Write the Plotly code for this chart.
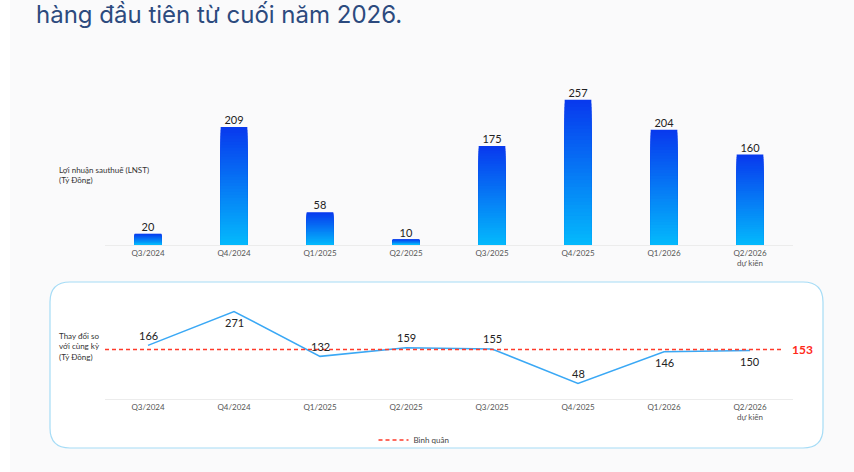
import plotly.graph_objects as go

# quarter labels and values
quarters = ['Q3/2024', 'Q4/2024', 'Q1/2025', 'Q2/2025', 'Q3/2025', 'Q4/2025', 'Q1/2026', 'Q2/2026']
tick_labels = ['Q3/2024', 'Q4/2024', 'Q1/2025', 'Q2/2025', 'Q3/2025', 'Q4/2025', 'Q1/2026', 'Q2/2026<br>dự kiến']
lnst = [20, 209, 58, 10, 175, 257, 204, 160]          # Lợi nhuận sau thuế (tỷ đồng)
yoy_change = [166, 271, 132, 159, 155, 48, 146, 150]  # Thay đổi so với cùng kỳ
label_above = [True, False, True, True, True, True, False, False]

W, H = 854, 472
def px(x):
    return x / W
def py(y):
    return 1 - y / H

avg = sum(yoy_change) / len(yoy_change)

fig = go.Figure()

# gradient bars: overlay bands from dark (top) to light (bottom)
N = 40
top_rgb = (8, 58, 238)
bot_rgb = (4, 184, 252)
for k in range(N):
    t = k / (N - 1)
    c = tuple(round(top_rgb[i] + (bot_rgb[i] - top_rgb[i]) * t) for i in range(3))
    fig.add_trace(go.Bar(
        x=quarters,
        y=[v * (N - k) / N for v in lnst],
        width=0.31,
        marker=dict(color='rgb(%d,%d,%d)' % c, line_width=0),
        showlegend=False,
        hoverinfo='skip',
        xaxis='x', yaxis='y',
    ))

# bar value labels
fig.add_trace(go.Scatter(
    x=quarters, y=lnst, mode='text', text=[str(v) for v in lnst],
    textposition='top center',
    textfont=dict(size=11, color='#222222', family='Lato'),
    cliponaxis=False, showlegend=False, xaxis='x', yaxis='y',
))

# yoy change line
fig.add_trace(go.Scatter(
    x=quarters, y=yoy_change, mode='lines',
    line=dict(color='#3aa8f5', width=1.5),
    cliponaxis=False, showlegend=False, xaxis='x2', yaxis='y2',
))

# panel around lower chart (rounded rectangle)
x0, x1, y0, y1, r = 50, 823, 282, 448, 20
path = (f'M {px(x0 + r)},{py(y0)} L {px(x1 - r)},{py(y0)} Q {px(x1)},{py(y0)} {px(x1)},{py(y0 + r)} '
        f'L {px(x1)},{py(y1 - r)} Q {px(x1)},{py(y1)} {px(x1 - r)},{py(y1)} '
        f'L {px(x0 + r)},{py(y1)} Q {px(x0)},{py(y1)} {px(x0)},{py(y1 - r)} '
        f'L {px(x0)},{py(y0 + r)} Q {px(x0)},{py(y0)} {px(x0 + r)},{py(y0)} Z')

shapes = [
    dict(type='rect', xref='paper', yref='paper', x0=0, x1=px(10), y0=0, y1=1,
         fillcolor='white', line_width=0, layer='below'),
    dict(type='path', path=path, xref='paper', yref='paper',
         fillcolor='white', line=dict(color='#a6dcf6', width=1.2), layer='below'),
    dict(type='line', xref='paper', yref='y2', x0=px(105), x1=px(782), y0=avg, y1=avg,
         line=dict(color='#ff3a2a', width=1.5, dash='4px,3px'),
         showlegend=True, name='Bình quân'),
]

annotations = [
    dict(text='hàng đầu tiên từ cuối năm 2026.', xref='paper', yref='paper',
         x=px(34), y=py(14), xanchor='left', yanchor='middle', showarrow=False,
         font=dict(family='Inter', size=24, color='#2c4a7e')),
    dict(text='Lợi nhuận sauthuế (LNST)<br>(Tỷ Đồng)', xref='paper', yref='paper',
         x=px(57), y=py(175), xanchor='left', yanchor='middle', align='left', showarrow=False,
         font=dict(family='Lato', size=8, color='#333333')),
    dict(text='Thay đổi so<br>với cùng kỳ<br>(Tỷ Đồng)', xref='paper', yref='paper',
         x=px(57), y=py(346), xanchor='left', yanchor='middle', align='left', showarrow=False,
         font=dict(family='Lato', size=8, color='#333333')),
    dict(text='<b>%d</b>' % round(avg), xref='paper', yref='y2',
         x=px(790), y=avg, xanchor='left', yanchor='middle', showarrow=False,
         font=dict(family='Lato', size=12, color='#ff2a1a')),
]

# value labels on the line, above or below each point
for q, v, above in zip(quarters, yoy_change, label_above):
    annotations.append(dict(
        text=str(v), x=q, y=v, xref='x2', yref='y2', showarrow=False,
        xanchor='center', yanchor='middle', yshift=10 if above else -11,
        font=dict(family='Lato', size=11, color='#222222'),
    ))

axis_common = dict(
    type='category', range=[-0.5, 7.5], domain=[px(105), px(793)],
    tickmode='array', tickvals=quarters, ticktext=tick_labels,
    tickfont=dict(family='Lato', size=8, color='#555555'),
    showgrid=False, zeroline=False, showline=True, linecolor='#ececec', linewidth=1,
    ticks='', fixedrange=True,
)

fig.update_layout(
    width=W, height=H,
    margin=dict(l=0, r=0, t=0, b=0),
    paper_bgcolor='#fafafb',
    plot_bgcolor='rgba(0,0,0,0)',
    barmode='overlay',
    font=dict(family='Lato', color='#333333'),
    xaxis=dict(axis_common, anchor='y'),
    yaxis=dict(domain=[py(245), py(80)], range=[0, 165 / 0.565], visible=False, fixedrange=True),
    xaxis2=dict(axis_common, anchor='y2'),
    yaxis2=dict(domain=[py(399), py(300)], range=[0, 99 / 0.323], visible=False, fixedrange=True),
    shapes=shapes,
    annotations=annotations,
    showlegend=True,
    legend=dict(orientation='h', x=px(414), xanchor='center', y=py(440), yanchor='middle',
                font=dict(family='Lato', size=8, color='#444444'), bgcolor='rgba(0,0,0,0)'),
)

# drop the default body margin so the figure sits at the page origin
fig.write_html('out.html', config={'displayModeBar': False},
               post_script="document.body.style.margin='0';document.body.style.overflow='hidden';")
